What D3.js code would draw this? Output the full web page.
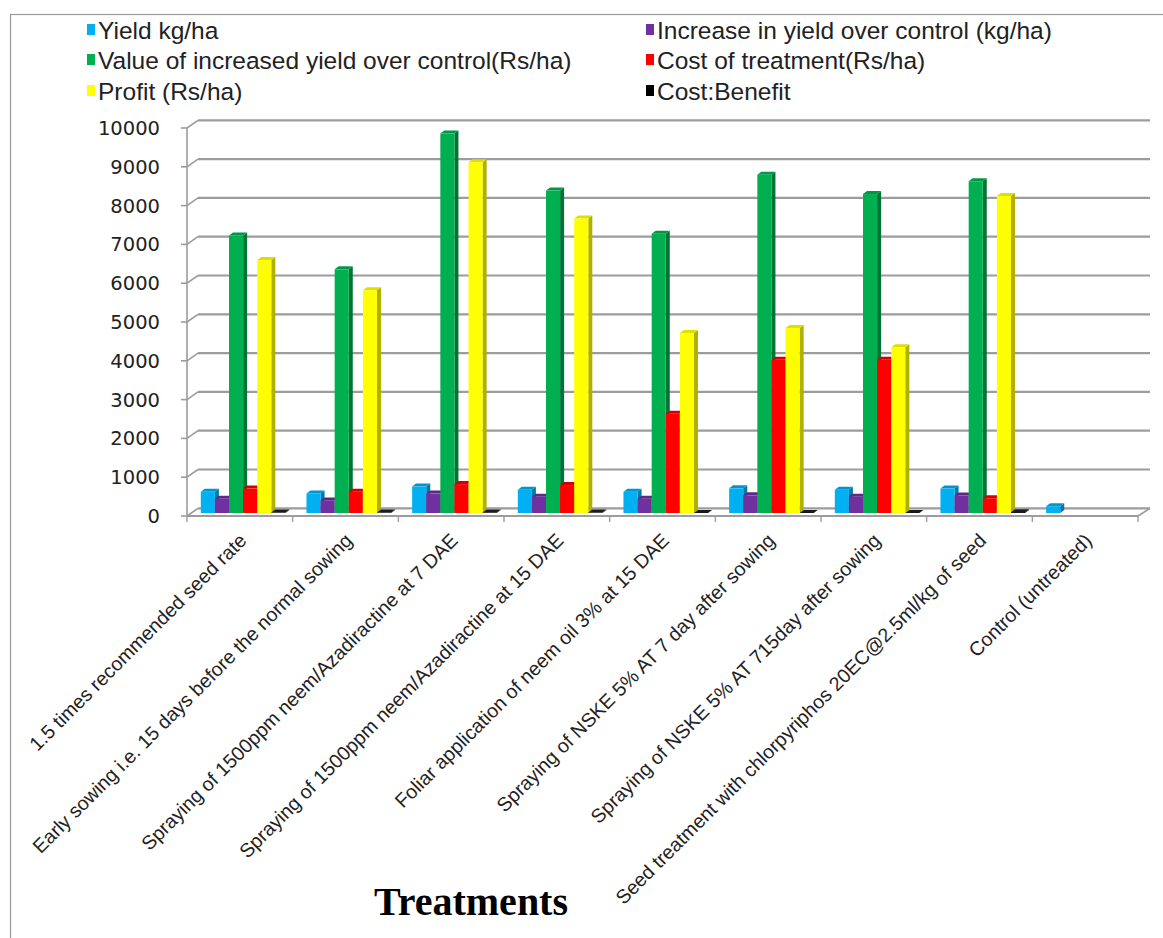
<!DOCTYPE html>
<html>
<head>
<meta charset="utf-8">
<script src="https://cdn.jsdelivr.net/npm/d3@7/dist/d3.min.js"></script>
<style>
  html, body { margin: 0; padding: 0; background: #ffffff; }
  svg { display: block; }
</style>
</head>
<body>
<svg id="chart" width="1163" height="938"></svg>
<script>
// Treatment categories along the x axis
const categories = [
  "1.5 times recommended seed rate",
  "Early sowing i.e. 15 days before the normal sowing",
  "Spraying of 1500ppm neem/Azadiractine at 7 DAE",
  "Spraying of 1500ppm neem/Azadiractine at 15 DAE",
  "Foliar application of neem oil 3% at 15 DAE",
  "Spraying of NSKE 5% AT 7 day after sowing",
  "Spraying of NSKE 5% AT 715day after sowing",
  "Seed treatment with chlorpyriphos 20EC@2.5ml/kg of seed",
  "Control (untreated)"
];

// Series names (legend order)
const seriesNames = [
  "Yield kg/ha",
  "Increase in yield over control (kg/ha)",
  "Value of increased yield over control(Rs/ha)",
  "Cost of treatment(Rs/ha)",
  "Profit (Rs/ha)",
  "Cost:Benefit"
];

// Series values, one per treatment
const yieldKgHa       = [545, 505, 680, 600, 550, 635, 600, 630, 175];
const increaseKgHa    = [365, 325, 500, 420, 370, 455, 420, 450, null];
const valueIncreaseRs = [7150, 6280, 9780, 8310, 7200, 8720, 8220, 8550, null];
const costTreatmentRs = [630, 550, 745, 720, 2560, 3950, 3950, 380, null];
const profitRs        = [6520, 5740, 9040, 7590, 4640, 4770, 4270, 8170, null];
const costBenefit     = [11.3, 11.6, 13.2, 11.5, 2.8, 2.2, 2.1, 22.5, null];

// Value axis ticks
const yTicks = [0, 1000, 2000, 3000, 4000, 5000, 6000, 7000, 8000, 9000, 10000];

const seriesValues = [yieldKgHa, increaseKgHa, valueIncreaseRs, costTreatmentRs, profitRs, costBenefit];

// Face colours: front, top, side
const palette = [
  { front: "#00B0F0", top: "#0095cf", side: "#0079a8" },
  { front: "#7030A0", top: "#5d2886", side: "#4a1f6b" },
  { front: "#00B050", top: "#009844", side: "#007435" },
  { front: "#FF0000", top: "#d40000", side: "#a80000" },
  { front: "#FFFF00", top: "#dede00", side: "#b0b000" },
  { front: "#000000", top: "#1a1a1a", side: "#000000" }
];

const svg = d3.select("#chart");

// Outer chart border (top and left edges visible)
svg.append("rect")
  .attr("x", 10.5).attr("y", 14.5)
  .attr("width", 1200).attr("height", 1000)
  .attr("fill", "none").attr("stroke", "#9a9a9a").attr("stroke-width", 1.2);

// Layout of the pseudo-3D plot
const frontX0 = 187, frontX1 = 1138;
const frontOff = { dx: 0, dy: 3 };     // front plane relative to bar plane
const backOff  = { dx: 11, dy: -4.7 }; // back wall relative to bar plane
const depth    = { dx: 4, dy: -3 };    // bar depth

const y = d3.scaleLinear().domain([0, 10000]).range([513, 125]);

const x0 = d3.scaleBand().domain(categories).range([frontX0, frontX1]).paddingInner(0).paddingOuter(0);
const x1 = d3.scaleBand().domain(seriesNames).range([13.8, 13.8 + 84.6]);

const gridColor = "#9c9c9c";
const grid = svg.append("g").attr("class", "grid");

// Back-wall gridlines and the side-wall diagonals
yTicks.forEach(v => {
  const yb = y(v) + backOff.dy;
  const yf = y(v) + frontOff.dy;
  grid.append("line")
    .attr("x1", frontX0 + backOff.dx).attr("y1", yb)
    .attr("x2", frontX1 + backOff.dx + 1).attr("y2", yb)
    .attr("stroke", gridColor).attr("stroke-width", 2.2);
  grid.append("line")
    .attr("x1", frontX0).attr("y1", yf)
    .attr("x2", frontX0 + backOff.dx).attr("y2", yb)
    .attr("stroke", gridColor).attr("stroke-width", 1.6);
  // tick mark on the front axis
  grid.append("line")
    .attr("x1", frontX0 - 6).attr("y1", yf)
    .attr("x2", frontX0).attr("y2", yf)
    .attr("stroke", gridColor).attr("stroke-width", 1.6);
});

// Front vertical axis
grid.append("line")
  .attr("x1", frontX0).attr("y1", y(0) + frontOff.dy)
  .attr("x2", frontX0).attr("y2", y(10000) + frontOff.dy)
  .attr("stroke", gridColor).attr("stroke-width", 1.6);

// Front floor edge with category ticks
const floorY = y(0) + frontOff.dy;
grid.append("line")
  .attr("x1", frontX0).attr("y1", floorY)
  .attr("x2", frontX1).attr("y2", floorY)
  .attr("stroke", gridColor).attr("stroke-width", 2);
grid.append("line")
  .attr("x1", frontX1).attr("y1", floorY)
  .attr("x2", frontX1 + backOff.dx + 1).attr("y2", y(0) + backOff.dy)
  .attr("stroke", gridColor).attr("stroke-width", 1.6);
categories.concat([null]).forEach(c => {
  const xx = c === null ? frontX1 : x0(c);
  grid.append("line")
    .attr("x1", xx).attr("y1", floorY)
    .attr("x2", xx).attr("y2", floorY + 6)
    .attr("stroke", gridColor).attr("stroke-width", 1.4);
});

// Y tick labels
svg.append("g").selectAll("text")
  .data(yTicks).join("text")
  .attr("x", 160)
  .attr("y", d => y(d) + frontOff.dy)
  .attr("dy", "0.36em")
  .attr("text-anchor", "end")
  .attr("font-family", "'DejaVu Sans', sans-serif")
  .attr("font-size", 19.5)
  .attr("fill", "#222")
  .text(d => d);

// Bars
const bars = svg.append("g").attr("class", "bars");
categories.forEach((c, ci) => {
  seriesNames.forEach((s, si) => {
    const v = seriesValues[si][ci];
    if (v === null || v === undefined) return;
    const xl = x0(c) + x1(s);
    const w = x1.bandwidth();
    const yt = y(v), yb = y(0);
    const col = palette[si];
    const g = bars.append("g");
    // side face
    g.append("polygon")
      .attr("points", [
        [xl + w, yt], [xl + w + depth.dx, yt + depth.dy],
        [xl + w + depth.dx, yb + depth.dy], [xl + w, yb]
      ].map(p => p.join(",")).join(" "))
      .attr("fill", col.side);
    // top face
    g.append("polygon")
      .attr("points", [
        [xl, yt], [xl + depth.dx, yt + depth.dy],
        [xl + w + depth.dx, yt + depth.dy], [xl + w, yt]
      ].map(p => p.join(",")).join(" "))
      .attr("fill", col.top);
    // front face
    g.append("rect")
      .attr("x", xl).attr("y", yt)
      .attr("width", w).attr("height", Math.max(0, yb - yt))
      .attr("fill", col.front);
  });
});

// Category labels, rotated
svg.append("g").selectAll("text")
  .data(categories).join("text")
  .attr("transform", d => `translate(${x0(d) + x0.bandwidth() / 2 + 3},${537}) rotate(-45)`)
  .attr("dy", "0.35em")
  .attr("text-anchor", "end")
  .attr("font-family", "'Liberation Sans', Arial, sans-serif")
  .attr("font-size", 19.6)
  .attr("fill", "#222")
  .text(d => d);

// Axis title
svg.append("text")
  .attr("x", 471).attr("y", 915)
  .attr("text-anchor", "middle")
  .attr("font-family", "'Liberation Serif', 'Times New Roman', serif")
  .attr("font-weight", "bold")
  .attr("font-size", 40)
  .attr("fill", "#000")
  .text("Treatments");

// Legend: two columns, three rows
const legend = svg.append("g").attr("class", "legend");
const legendCols = [87, 646];
const legendRows = [30, 60, 91];
seriesNames.forEach((s, i) => {
  const lx = legendCols[i % 2];
  const ly = legendRows[Math.floor(i / 2)];
  legend.append("rect")
    .attr("x", lx).attr("y", ly - 6)
    .attr("width", 8).attr("height", 11)
    .attr("fill", palette[i].front);
  legend.append("text")
    .attr("x", lx + 11).attr("y", ly)
    .attr("dy", "0.35em")
    .attr("font-family", "'Liberation Sans', Arial, sans-serif")
    .attr("font-size", 24.5)
    .attr("fill", "#222")
    .text(s);
});
</script>
</body>
</html>
